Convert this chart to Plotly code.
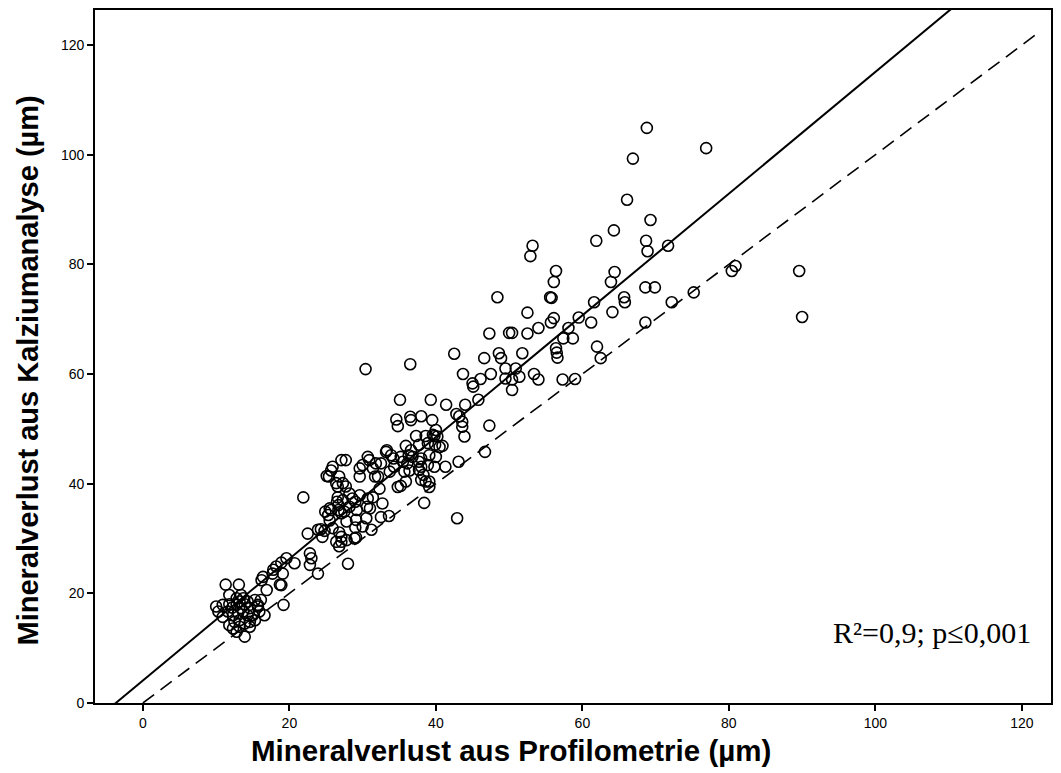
import plotly.graph_objects as go

# Mineral loss per specimen: profilometry (x) vs. calcium analysis (y), in µm
profilometrie = [
    68.8, 76.9, 66.9, 66.1, 69.3, 64.3, 61.9, 68.7, 68.9, 71.7, 64.4, 63.9, 68.6, 69.9, 61.6, 65.7,
    65.8, 64.1, 61.2, 68.6, 72.2, 75.2, 80.4, 80.9, 89.6, 90.0, 59.5, 62.0, 62.5, 53.2, 52.9, 56.4,
    56.1, 48.4, 55.6, 55.8, 52.5, 56.1, 55.7, 54.0, 58.1, 47.3, 50.0, 50.4, 52.5, 57.4, 58.7, 56.4,
    56.5, 56.6, 42.5, 46.6, 48.6, 48.9, 51.8, 50.9, 49.5, 43.7, 47.5, 45.0, 45.1, 46.1, 49.5, 50.4,
    51.4, 53.4, 54.0, 57.3, 59.0, 50.4, 30.4, 36.5, 45.8, 35.1, 39.3, 41.4, 44.0, 42.8, 43.2, 43.6,
    43.6, 34.6, 34.8, 36.5, 36.6, 38.0, 39.5, 47.3, 43.9, 37.3, 38.6, 39.6, 39.8, 40.2, 35.9, 37.7,
    39.9, 40.5, 36.3, 36.8, 33.2, 34.2, 35.5, 38.0, 39.1, 40.0, 38.0, 38.9, 39.8, 41.3, 46.7, 43.1,
    31.8, 29.6, 31.7, 30.0, 30.7, 27.1, 27.7, 25.9, 25.4, 26.4, 26.6, 27.7, 35.2, 36.4, 38.3, 38.6,
    40.0, 36.6, 38.9, 40.9, 33.3, 33.9, 35.2, 30.9, 32.5, 34.3, 36.1, 37.7, 29.6, 31.4, 32.1, 33.7,
    35.7, 37.7, 38.0, 39.1, 35.9, 39.1, 26.8, 27.3, 21.9, 25.7, 25.1, 28.2, 28.6, 29.0, 29.6, 26.5,
    26.7, 25.5, 25.7, 24.9, 25.3, 26.7, 27.1, 27.5, 28.2, 29.2, 31.0, 30.6, 25.5, 27.8, 29.1, 30.5,
    23.9, 24.3, 24.8, 22.5, 24.5, 25.9, 26.8, 27.1, 27.8, 29.0, 29.1, 26.8, 27.1, 28.9, 22.8, 23.0,
    22.8, 28.0, 23.9, 19.6, 18.9, 18.2, 19.1, 17.7, 16.4, 20.7, 32.3, 34.8, 26.6, 27.3, 30.7, 31.4,
    32.7, 32.5, 33.6, 30.0, 31.2, 26.4, 38.4, 42.9, 11.3, 13.1, 11.8, 13.4, 10.0, 10.3, 10.9, 15.3,
    15.7, 15.9, 16.6, 11.8, 12.3, 13.2, 12.8, 13.9, 16.2, 18.7, 16.9, 19.2, 11.8, 12.2, 12.8, 13.2,
    13.7, 13.9, 14.3, 14.6, 15.0, 14.3, 13.7, 13.0, 12.3, 11.6, 13.2, 13.9, 14.6, 15.3, 12.5, 15.7,
    10.9, 13.4, 12.8, 16.1, 14.6, 18.9, 17.8,
]
kalziumanalyse = [
    104.9, 101.2, 99.3, 91.8, 88.1, 86.2, 84.3, 84.3, 82.4, 83.4, 78.6, 76.8, 75.8, 75.8, 73.1, 74.0,
    73.1, 71.3, 69.4, 69.4, 73.1, 74.9, 78.8, 79.7, 78.8, 70.4, 70.3, 65.0, 62.9, 83.4, 81.5, 78.8,
    76.8, 74.0, 74.0, 73.9, 71.2, 70.2, 69.4, 68.4, 68.4, 67.4, 67.5, 67.5, 67.4, 66.5, 66.5, 64.7,
    63.9, 63.0, 63.7, 62.9, 63.8, 62.9, 63.8, 61.0, 61.0, 60.0, 60.0, 58.3, 57.7, 59.1, 59.2, 59.0,
    59.5, 60.0, 59.0, 59.0, 59.1, 57.1, 60.9, 61.8, 55.3, 55.3, 55.3, 54.4, 54.4, 52.7, 52.3, 51.3,
    50.4, 51.7, 50.5, 52.2, 51.6, 52.3, 51.6, 50.6, 48.6, 48.7, 48.7, 48.9, 48.7, 48.6, 46.9, 47.1,
    47.1, 46.7, 45.2, 44.9, 45.8, 44.6, 44.0, 44.6, 45.2, 44.9, 43.1, 43.4, 43.1, 43.1, 45.8, 44.0,
    43.7, 41.3, 41.3, 43.4, 44.9, 44.3, 44.3, 43.1, 41.3, 40.1, 39.5, 39.5, 39.6, 42.4, 41.6, 40.4,
    49.8, 46.1, 47.4, 46.9, 46.1, 45.2, 44.9, 44.3, 43.7, 43.1, 43.7, 44.0, 42.8, 42.8, 41.3, 42.2,
    42.2, 42.5, 40.7, 40.4, 40.4, 39.4, 41.3, 40.1, 37.5, 42.4, 41.4, 38.2, 37.3, 36.7, 37.9, 36.7,
    36.1, 35.5, 35.2, 34.9, 34.3, 35.2, 34.6, 34.9, 35.8, 35.2, 35.5, 35.8, 33.3, 33.1, 33.4, 33.7,
    31.6, 31.7, 31.4, 30.9, 30.3, 31.9, 31.1, 30.3, 29.7, 32.0, 30.2, 28.6, 29.4, 30.0, 27.3, 26.4,
    25.2, 25.4, 23.6, 26.4, 25.6, 24.9, 23.6, 23.6, 23.0, 25.5, 39.1, 39.4, 37.5, 37.0, 37.3, 37.5,
    36.4, 33.9, 34.1, 32.2, 31.6, 29.4, 36.5, 33.7, 21.6, 21.6, 19.7, 19.7, 17.6, 16.7, 15.7, 18.8,
    17.9, 16.7, 16.0, 14.2, 13.6, 13.9, 13.0, 12.1, 22.4, 21.6, 20.6, 17.9, 18.0, 17.4, 17.9, 18.5,
    19.1, 18.0, 18.5, 17.3, 16.0, 16.0, 16.7, 16.4, 16.0, 16.7, 15.1, 14.5, 14.8, 15.1, 14.8, 17.6,
    17.9, 17.3, 19.1, 18.8, 13.9, 21.5, 24.3,
]

# Fitted regression line and line of identity
fit_intercept = 4.1
fit_slope = 1.11
fit_x = [-7.0, 125.0]
fit_y = [fit_intercept + fit_slope * v for v in fit_x]
identity_x = [0.0, 122.5]
identity_y = [0.0, 122.5]

tick_values = [0, 20, 40, 60, 80, 100, 120]
x_title = "Mineralverlust aus Profilometrie (µm)"
y_title = "Mineralverlust aus Kalziumanalyse (µm)"
stats_label = "R²=0,9; p≤0,001"

SANS = "Liberation Sans, Arial, sans-serif"

fig = go.Figure()

fig.add_trace(go.Scatter(
    x=identity_x, y=identity_y, mode="lines",
    line=dict(color="black", width=1.6, dash="14px,8px"),
    showlegend=False, hoverinfo="skip",
))
fig.add_trace(go.Scatter(
    x=fit_x, y=fit_y, mode="lines",
    line=dict(color="black", width=2),
    showlegend=False, hoverinfo="skip",
))
fig.add_trace(go.Scatter(
    x=profilometrie, y=kalziumanalyse, mode="markers",
    marker=dict(symbol="circle-open", size=11, color="black", line=dict(width=1.6, color="black")),
    showlegend=False,
))

# Statistics label in the lower right corner
fig.add_annotation(
    x=121.5, y=12.9, xref="x", yref="y", text=stats_label, showarrow=False,
    xanchor="right", yanchor="middle",
    font=dict(family="Liberation Serif, Times New Roman, serif", size=30, color="black"),
)

# Axis titles as free annotations
fig.add_annotation(
    x=0.435, y=-0.069, xref="paper", yref="paper", text=f"<b>{x_title}</b>", showarrow=False,
    xanchor="center", yanchor="middle",
    font=dict(family=SANS, size=29.5, color="black"),
)
fig.add_annotation(
    x=-0.07, y=0.48, xref="paper", yref="paper", text=f"<b>{y_title}</b>", showarrow=False,
    xanchor="center", yanchor="middle", textangle=-90,
    font=dict(family=SANS, size=29, color="black"),
)

axis_common = dict(
    showgrid=False, zeroline=False, showline=True, linecolor="black", linewidth=1.6,
    mirror=True, ticks="outside", ticklen=6, tickwidth=1.5, tickcolor="black",
    tickvals=tick_values,
    tickfont=dict(family=SANS, size=14, color="black"),
)

fig.update_layout(
    width=1061, height=773,
    margin=dict(l=95, r=8, t=10, b=70),
    paper_bgcolor="white", plot_bgcolor="white",
    xaxis=dict(range=[-6.54, 123.98], **axis_common),
    yaxis=dict(range=[0, 126.4], **axis_common),
)

fig.write_html("out.html")
